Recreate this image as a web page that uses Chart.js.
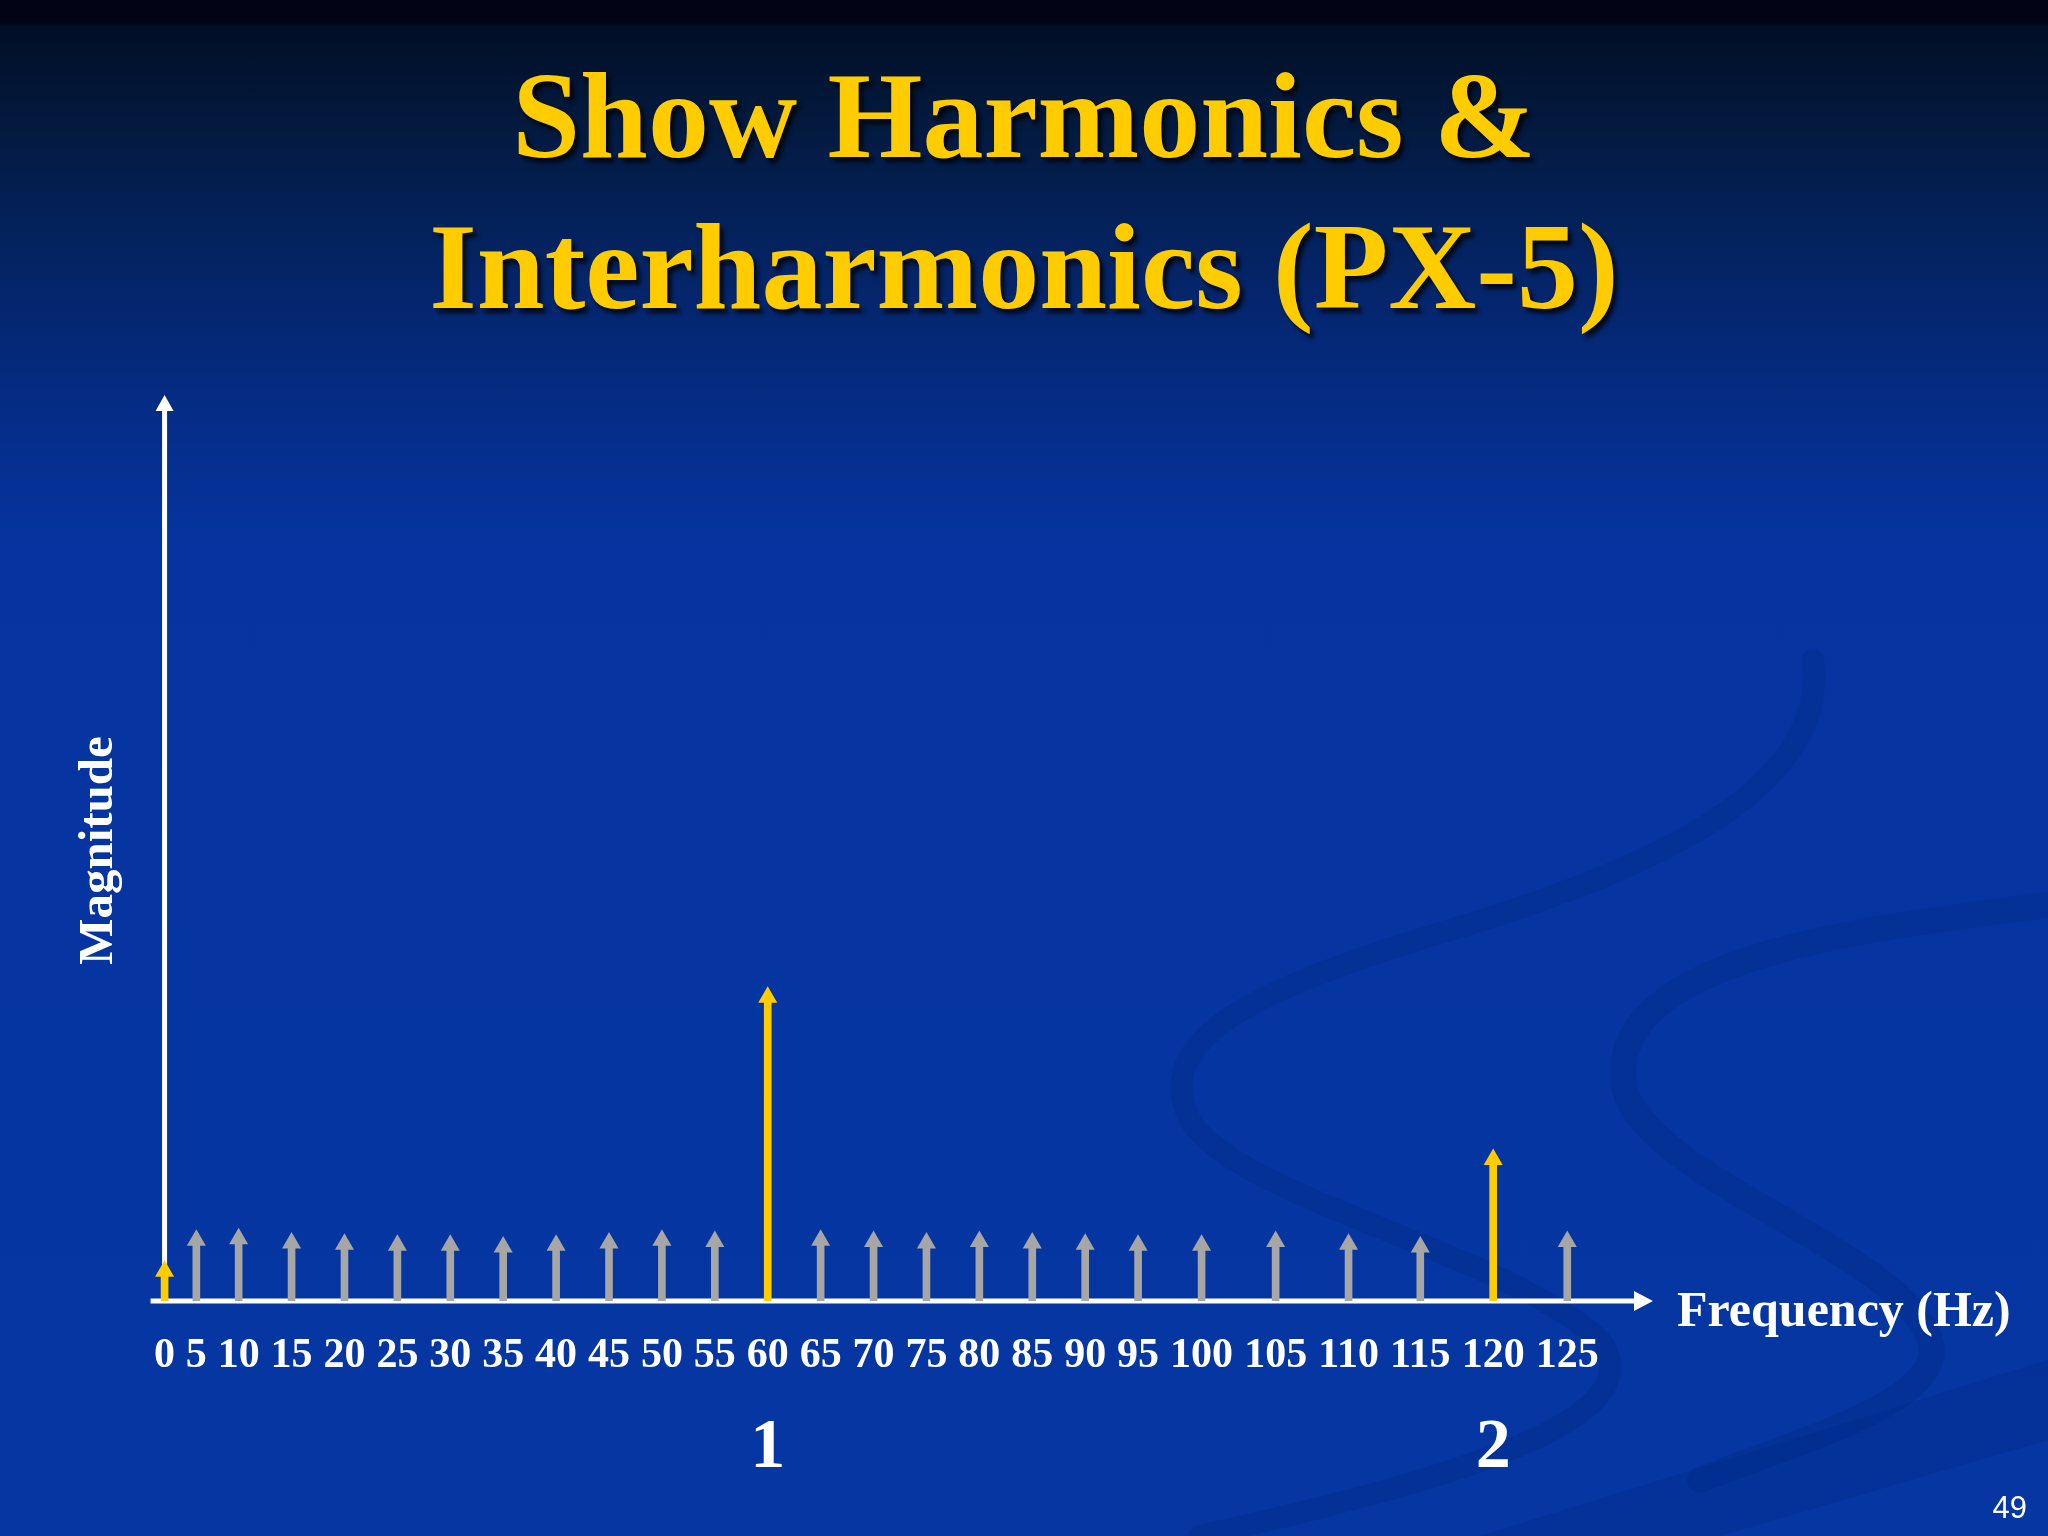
<!DOCTYPE html>
<html lang="en">
<head>
    <meta charset="UTF-8">
    <title>Show Harmonics &amp; Interharmonics (PX-5)</title>
    <script src="https://cdn.jsdelivr.net/npm/chart.js"></script>
    <style>
        html, body {
            margin: 0;
            padding: 0;
        }
        body {
            width: 2048px;
            height: 1536px;
            position: relative;
            overflow: hidden;
            background: linear-gradient(to bottom,
                #020314 0px, #020314 22px, #010f26 26px, #031a40 130px,
                #042466 270px, #052c84 400px, #0534a0 540px, #0536a2 1536px);
            font-family: "Liberation Serif", serif;
        }
        .swoosh {
            position: absolute;
            left: 0;
            top: 0;
        }
        .title {
            position: absolute;
            top: 40px;
            left: 0;
            width: 2048px;
            text-align: center;
            color: #FFCC00;
            font-size: 122px;
            font-weight: bold;
            line-height: 151px;
            text-shadow: 4px 5px 4px rgba(0, 0, 0, 0.75);
        }
        #chartCanvas {
            position: absolute;
            left: 0;
            top: 0;
        }
        .page-num {
            position: absolute;
            right: 21px;
            top: 1490px;
            color: #ffffff;
            font-family: "Liberation Sans", Arial, sans-serif;
            font-size: 31px;
        }
    </style>
</head>
<body>
    <!-- faint background swirl of the slide template -->
    <svg class="swoosh" width="2048" height="1536">
        <g fill="none" stroke="#002c86" stroke-opacity="0.38" stroke-linecap="round">
            <path d="M 1813 660 C 1830 790, 1650 870, 1450 930 C 1250 990, 1150 1040, 1190 1120 C 1240 1200, 1500 1250, 1600 1340 C 1660 1420, 1450 1480, 1200 1536" stroke-width="22"/>
            <path d="M 2048 905 C 1850 930, 1600 960, 1625 1090 C 1650 1180, 1900 1250, 1930 1340 C 1950 1400, 1800 1440, 1700 1480" stroke-width="26"/>
        </g>
        <path d="M 1480 1536 L 2048 1360 L 2048 1440 L 1720 1536 Z" fill="#002c86" fill-opacity="0.35"/>
    </svg>

    <div class="title">Show Harmonics &amp;<br>Interharmonics (PX-5)</div>

    <canvas id="chartCanvas" width="2048" height="1536"></canvas>

    <div class="page-num">49</div>

    <script>
        // spectrum lines, every 5 Hz
        const freqLabels = ['0', '5', '10', '15', '20', '25', '30', '35', '40', '45', '50', '55', '60',
            '65', '70', '75', '80', '85', '90', '95', '100', '105', '110', '115', '120', '125'];
        const magnitudes = [3.3, 6.75, 6.9, 6.45, 6.3, 6.2, 6.2, 6.0, 6.2, 6.45, 6.75, 6.6, 33.7,
            6.75, 6.6, 6.45, 6.6, 6.45, 6.3, 6.2, 6.2, 6.6, 6.3, 6.0, 15.7, 6.6];
        // harmonic order written under the 60 Hz and 120 Hz lines
        const harmonicOrder = ['', '', '', '', '', '', '', '', '', '', '', '', '1',
            '', '', '', '', '', '', '', '', '', '', '', '2', ''];

        const YELLOW = '#FFCC00';
        const GRAY = '#A6A6A6';
        const arrowColors = freqLabels.map(f => (Number(f) % 60 === 0 ? YELLOW : GRAY));

        const tickFont = { family: 'Liberation Serif', size: 42, weight: 'bold' };
        const tickFontCss = 'bold 42px "Liberation Serif"';

        // category axis whose labels sit like one line of text ("0 5 10 15 ...")
        // so the spacing follows the width of each label, as on the slide
        let flowCache = null;
        class FlowScale extends Chart.CategoryScale {
            static id = 'flow';
            static defaults = Chart.CategoryScale.defaults;

            buildFlow() {
                const ctx = this.ctx;
                ctx.save();
                ctx.font = tickFontCss;
                const gap = ctx.measureText(' ').width;
                const centers = [];
                let x = 0;
                freqLabels.forEach(l => {
                    const w = ctx.measureText(l).width;
                    centers.push(x + w / 2);
                    x += w + gap;
                });
                ctx.restore();
                flowCache = { centers, total: x - gap };
            }

            getPixelForValue(value) {
                if (typeof value !== 'number') {
                    value = this.parse(value);
                }
                if (value === null || value === undefined) return NaN;
                if (!flowCache) this.buildFlow();
                const k = this.width / flowCache.total;
                return this.left + flowCache.centers[value] * k;
            }

            _calculatePadding() {
                this.paddingLeft = 0;
                this.paddingRight = 0;
            }
        }
        Chart.register(FlowScale);

        // white axes with arrow heads, plus the "Frequency (Hz)" label
        const axisArrows = {
            id: 'axisArrows',
            beforeDatasetsDraw(chart) {
                const { ctx, chartArea, scales } = chart;
                const x0 = scales.x.getPixelForValue(0);
                const y0 = chartArea.bottom;
                const xEnd = chartArea.right + 54;
                const yEnd = chartArea.top - 5;
                ctx.save();
                ctx.strokeStyle = '#ffffff';
                ctx.fillStyle = '#ffffff';
                ctx.lineWidth = 5;
                ctx.beginPath();
                ctx.moveTo(x0 - 14, y0);
                ctx.lineTo(xEnd - 16, y0);
                ctx.moveTo(x0, y0 + 2);
                ctx.lineTo(x0, yEnd + 14);
                ctx.stroke();
                ctx.beginPath();
                ctx.moveTo(xEnd, y0);
                ctx.lineTo(xEnd - 19, y0 - 10);
                ctx.lineTo(xEnd - 19, y0 + 10);
                ctx.closePath();
                ctx.moveTo(x0, yEnd);
                ctx.lineTo(x0 - 9, yEnd + 16);
                ctx.lineTo(x0 + 9, yEnd + 16);
                ctx.closePath();
                ctx.fill();

                ctx.font = 'bold 50px "Liberation Serif"';
                ctx.textAlign = 'left';
                ctx.textBaseline = 'alphabetic';
                ctx.fillText('Frequency (Hz)', xEnd + 24, y0 + 25);
                ctx.restore();
            }
        };

        const ctx = document.getElementById('chartCanvas').getContext('2d');
        new Chart(ctx, {
            data: {
                labels: freqLabels,
                datasets: [
                    {
                        // arrow heads
                        type: 'line',
                        data: magnitudes,
                        showLine: false,
                        pointStyle: 'triangle',
                        pointRadius: 11,
                        pointBorderWidth: 0,
                        pointBackgroundColor: arrowColors,
                        pointBorderColor: arrowColors
                    },
                    {
                        // arrow shafts
                        type: 'bar',
                        data: magnitudes,
                        backgroundColor: arrowColors,
                        borderWidth: 0,
                        barThickness: 7
                    }
                ]
            },
            options: {
                responsive: false,
                animation: false,
                events: [],
                layout: {
                    padding: { left: 0, top: 400, right: 449, bottom: 35 }
                },
                plugins: {
                    legend: { display: false },
                    tooltip: { enabled: false }
                },
                scales: {
                    x: {
                        type: 'flow',
                        position: 'bottom',
                        weight: 0,
                        grid: { display: false, drawTicks: false },
                        border: { display: false },
                        ticks: {
                            color: '#ffffff',
                            font: tickFont,
                            padding: 30,
                            autoSkip: false,
                            maxRotation: 0
                        },
                        afterFit: s => { s.height = 100; }
                    },
                    x2: {
                        type: 'flow',
                        position: 'bottom',
                        weight: 1,
                        grid: { display: false, drawTicks: false },
                        border: { display: false },
                        ticks: {
                            color: '#ffffff',
                            font: { family: 'Liberation Serif', size: 70, weight: 'bold' },
                            padding: 6,
                            autoSkip: false,
                            maxRotation: 0,
                            callback: (v, i) => harmonicOrder[i]
                        },
                        afterFit: s => { s.height = 100; }
                    },
                    y: {
                        min: 0,
                        max: 100,
                        grid: { display: false, drawTicks: false },
                        border: { display: false },
                        ticks: { display: false },
                        title: {
                            display: true,
                            text: 'Magnitude',
                            color: '#ffffff',
                            font: { family: 'Liberation Serif', size: 49, weight: 'bold' },
                            padding: { top: 70, bottom: 0 }
                        },
                        afterFit: s => { s.width = 154; }
                    }
                }
            },
            plugins: [axisArrows]
        });
    </script>
</body>
</html>
